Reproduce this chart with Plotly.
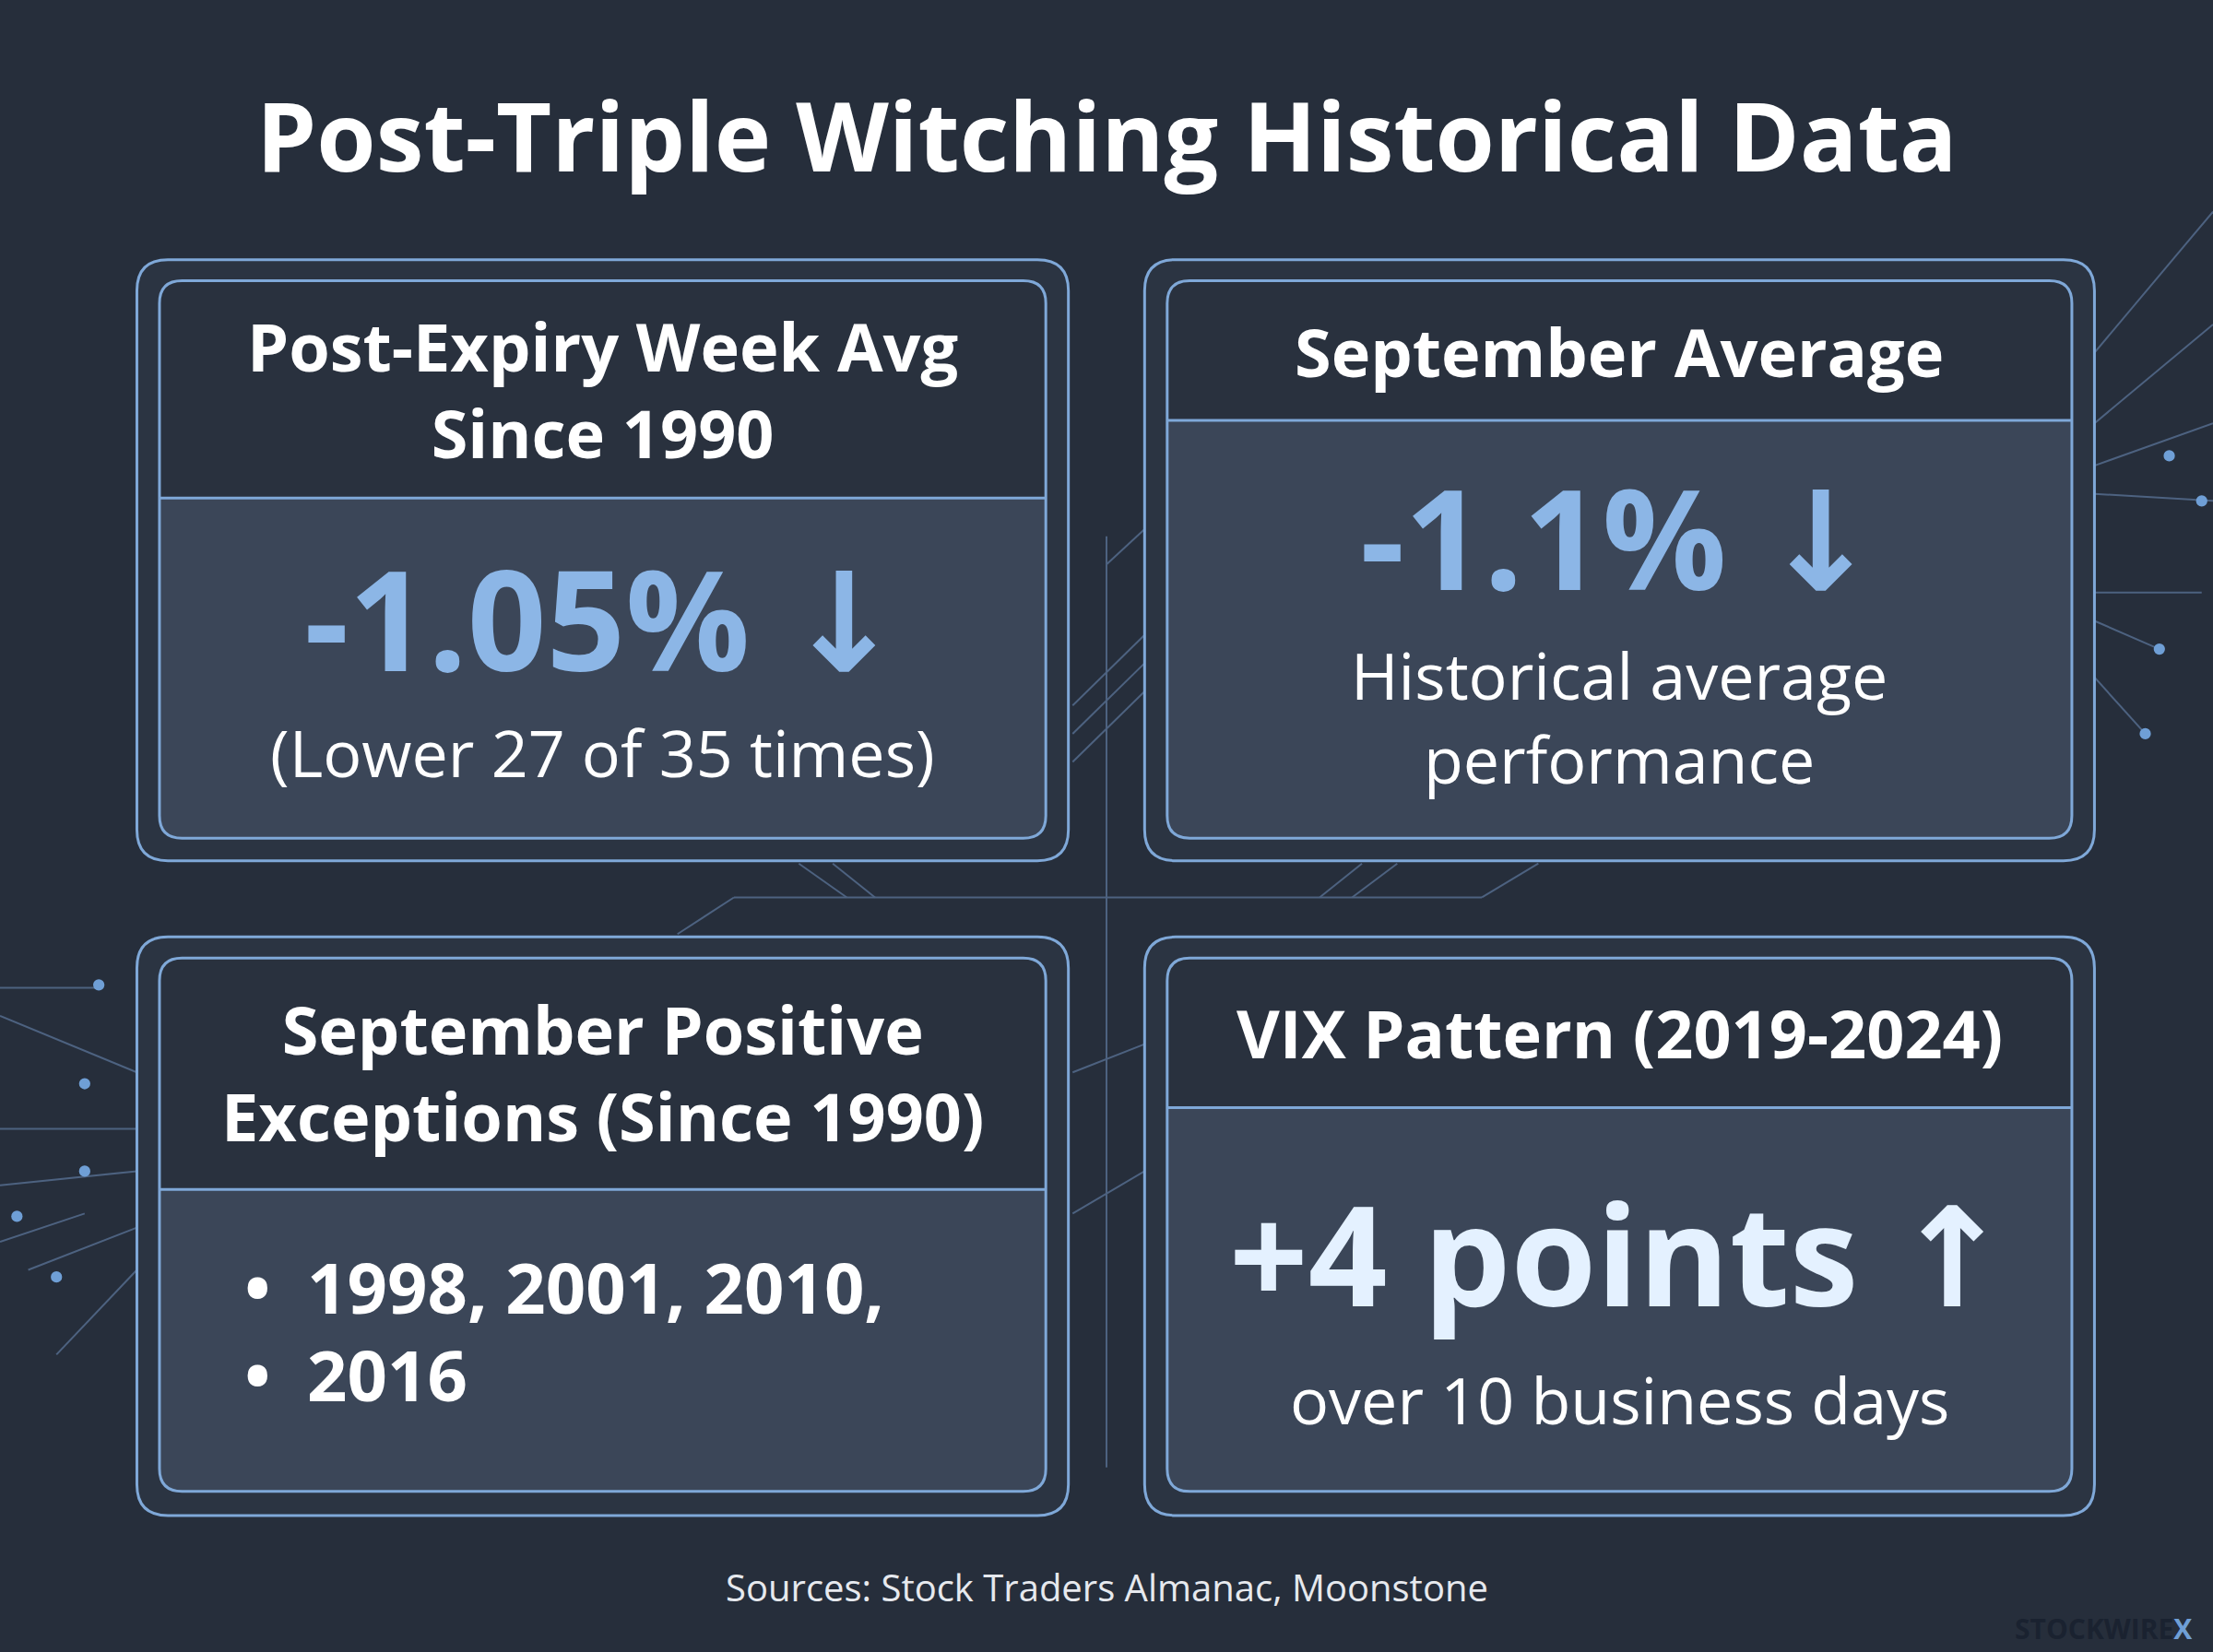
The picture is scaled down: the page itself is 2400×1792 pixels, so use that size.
import plotly.graph_objects as go

# ---- data (text content of the four panels) ----
title = "Post-Triple Witching Historical Data"
panel_headers = ["Post-Expiry Week Avg<br>Since 1990", "September Average",
                 "September Positive<br>Exceptions (Since 1990)", "VIX Pattern (2019-2024)"]
panel_values = ["-1.05% ↓", "-1.1% ↓", None, "+4 points ↑"]
panel_notes = ["(Lower 27 of 35 times)", "Historical average<br>performance", None,
               "over 10 business days"]
exception_years = ["1998, 2001, 2010,", "2016"]
source_text = "Sources: Stock Traders Almanac, Moonstone"

S = 2400 / 1568  # reference drawn at 1568 wide

# panel geometry in reference coords
panels = [
    dict(o=(97, 184, 757, 610), i=(113, 199, 741, 594), d=353, hy=276, vy=438, ny=533),
    dict(o=(811, 184, 1484, 610), i=(827, 199, 1468, 594), d=298, hy=249, vy=380, ny=508),
    dict(o=(97, 664, 757, 1074), i=(113, 679, 741, 1057), d=843, hy=760, vy=None, ny=None),
    dict(o=(811, 664, 1484, 1074), i=(827, 679, 1468, 1057), d=785, hy=732, vy=888, ny=992),
]

BG = "#262e3b"
BORDER = "#7fa8d8"
fig = go.Figure()
shapes, ann = [], []

def rrect(x0, y0, x1, y1, r=16, top=True, bottom=True, **kw):
    x0, y0, x1, y1, r = x0 * S, y0 * S, x1 * S, y1 * S, r * S
    rt = r if top else 0
    rb = r if bottom else 0
    p = (f"M{x0 + rt},{y0} L{x1 - rt},{y0} Q{x1},{y0} {x1},{y0 + rt} "
         f"L{x1},{y1 - rb} Q{x1},{y1} {x1 - rb},{y1} L{x0 + rb},{y1} Q{x0},{y1} {x0},{y1 - rb} "
         f"L{x0},{y0 + rt} Q{x0},{y0} {x0 + rt},{y0} Z")
    shapes.append(dict(type="path", path=p, layer="below", **kw))

def line(x0, y0, x1, y1, color="#4d6280", width=2):
    shapes.append(dict(type="line", x0=x0 * S, y0=y0 * S, x1=x1 * S, y1=y1 * S,
                       line=dict(color=color, width=width), layer="below"))

# decorative circuit traces
traces = [
    (480, 662, 520, 636), (520, 636, 1050, 636), (1050, 636, 1090, 612),
    (566, 612, 600, 636), (590, 612, 620, 636), (958, 636, 990, 612), (935, 636, 965, 612),
    (784, 380, 784, 1040), (784, 400, 811, 375), (760, 520, 811, 470), (760, 500, 811, 450),
    (760, 540, 811, 490), (760, 760, 811, 740), (760, 860, 811, 830),
    (1484, 300, 1568, 230), (1484, 330, 1568, 300), (1484, 350, 1568, 355), (1484, 420, 1560, 420),
    (1484, 440, 1530, 460), (1484, 480, 1520, 520), (1484, 250, 1568, 150),
    (0, 720, 97, 760), (0, 800, 97, 800), (0, 840, 97, 830), (20, 900, 97, 870),
    (40, 960, 97, 900), (0, 700, 70, 700), (0, 880, 60, 860),
]
for t in traces:
    line(*t)
dots = [(70, 698), (60, 768), (60, 830), (40, 905), (12, 862), (1537, 323), (1560, 355),
        (1530, 460), (1520, 520)]
for x, y in dots:
    shapes.append(dict(type="circle", x0=(x - 4) * S, y0=(y - 4) * S, x1=(x + 4) * S, y1=(y + 4) * S,
                       fillcolor="#6f9fd6", line=dict(width=0), layer="below"))

for k, p in enumerate(panels):
    ox0, oy0, ox1, oy1 = p["o"]
    ix0, iy0, ix1, iy1 = p["i"]
    rrect(ox0, oy0, ox1, oy1, r=22, line=dict(color=BORDER, width=3), fillcolor="#2b3442")
    rrect(ix0, iy0, ix1, p["d"], bottom=False, line=dict(width=0), fillcolor="#29313e")
    rrect(ix0, p["d"], ix1, iy1, top=False, line=dict(width=0), fillcolor="#3b4658")
    rrect(ix0, iy0, ix1, iy1, line=dict(color=BORDER, width=3))
    line(ix0, p["d"], ix1, p["d"], color=BORDER, width=3)
    cx = (ix0 + ix1) / 2 * S
    ann.append(dict(x=cx, y=p["hy"] * S, text="<b>" + panel_headers[k] + "</b>", showarrow=False,
                    font=dict(family="Open Sans", size=72, color="white")))
    if panel_values[k]:
        big, arrow = panel_values[k].rsplit(" ", 1)
        color = "#e4f1ff" if k == 3 else "#8cb6e6"
        ann.append(dict(x=cx, y=p["vy"] * S,
                        text="<b>" + big + "</b> <span style='font-family:DejaVu Sans'><b>" + arrow
                             + "</b></span>", showarrow=False,
                        font=dict(family="Open Sans", size=150, color=color)))
        ann.append(dict(x=cx, y=p["ny"] * S, text=panel_notes[k], showarrow=False,
                        font=dict(family="Open Sans", size=70, color="white")))

# bullet list in third panel
for j, yr in enumerate(exception_years):
    ann.append(dict(x=172 * S, y=(912 + 62 * j) * S, text="<b>•  " + yr + "</b>", showarrow=False,
                    xanchor="left", font=dict(family="Open Sans", size=76, color="white")))

ann.append(dict(x=784 * S, y=95 * S, text="<b>" + title + "</b>", showarrow=False,
                font=dict(family="Open Sans", size=104, color="white")))
ann.append(dict(x=784 * S, y=1125 * S, text=source_text, showarrow=False,
                font=dict(family="Open Sans", size=40, color="#e6e9ee")))
ann.append(dict(x=1555 * S, y=1154 * S, text="<b>STOCKWIRE</b><b style='color:#6f9fd6'>X</b>",
                showarrow=False, xanchor="right",
                font=dict(family="Open Sans", size=30, color="#1a2230")))

fig.update_layout(
    width=2400, height=1792, margin=dict(l=0, r=0, t=0, b=0),
    paper_bgcolor=BG, plot_bgcolor=BG,
    xaxis=dict(range=[0, 2400], visible=False, fixedrange=True),
    yaxis=dict(range=[1792, 0], visible=False, fixedrange=True),
    shapes=shapes, annotations=ann, showlegend=False,
)
fig.write_html("out.html", config={"displayModeBar": False},
               post_script="document.body.style.margin='0';")
